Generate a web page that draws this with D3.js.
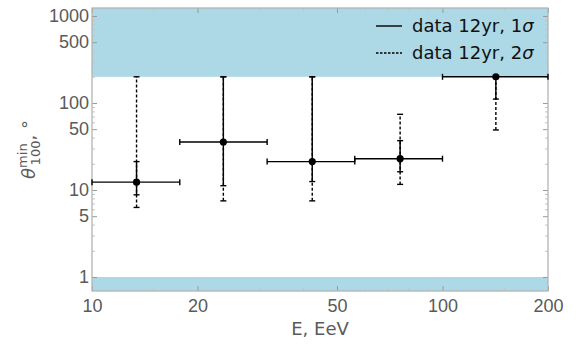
<!DOCTYPE html>
<html>
<head>
<meta charset="utf-8">
<script src="https://cdn.jsdelivr.net/npm/d3@7"></script>
<style>
	body { margin: 0; background: #fff; }
	svg { font-family: "DejaVu Sans", sans-serif; }
	.axis text { fill: #5a5a5a; font-size: 18px; }
	.axis line { stroke: #9a9a9a; }
	.minor line { stroke: #c4c4c4; }
</style>
</head>
<body>
<svg id="graph"></svg>
<script>
// bins in energy (EeV) and the angle limits (degrees)
var energy   = [ 13.4, 23.7, 42.5, 75.7, 142 ];
var e_low    = [ 10, 17.8, 31.6, 56.2, 100 ];
var e_high   = [ 17.8, 31.6, 56.2, 100, 200 ];
var theta    = [ 12.3, 35.6, 21.2, 22.9, 200 ];
var sig1_low = [ 8.8, 11.2, 12.5, 16.2, 111 ];
var sig1_hi  = [ 21.2, 200, 200, 36.9, 200 ];
var sig2_low = [ 6.3, 7.5, 7.5, 11.6, 49 ];
var sig2_hi  = [ 200, 200, 200, 74.1, 200 ];

// excluded regions
var band_top    = [ 200, 1236 ];
var band_bottom = [ 0.69, 1 ];

var x_ticks       = [ 10, 20, 50, 100, 200 ];
var x_minor_ticks = [ 15, 30, 40, 60, 70, 80, 90, 150 ];
var y_ticks       = [ 1, 5, 10, 50, 100, 500, 1000 ];
var y_minor_ticks = [ 2, 3, 4, 6, 7, 8, 9, 20, 30, 40, 60, 70, 80, 90, 200, 300, 400, 600, 700, 800, 900 ];

var legend_labels = [ "1", "2" ];

var margin = { top : 8, right : 31, bottom : 53, left : 92 };
var width  = 579 - margin.left - margin.right;
var height = 344 - margin.top  - margin.bottom;

var svg = d3.select( "#graph" )
		.attr( "width" , 579 )
		.attr( "height", 344 )
	.append( "g" )
		.attr( "transform", "translate(" + margin.left + "," + margin.top + ")" );

var x = d3.scaleLog().domain([ 10, 200 ]).range([ 0, width ]);
var y = d3.scaleLog().domain([ band_bottom[0], band_top[1] ]).range([ height, 0 ]);

// Shaded bands
[ band_top, band_bottom ].forEach(function(b){
	svg.append( "rect" )
		.attr( "x", 0 )
		.attr( "width", width )
		.attr( "y", y( b[1] ) )
		.attr( "height", y( b[0] ) - y( b[1] ) )
		.style( "fill", "#add8e6" );
});

// Axes: labels + inward ticks
var fmt = function(d){ return d; };

svg.append( "g" )
	.attr( "class", "x axis" )
	.attr( "transform", "translate(0," + height + ")" )
	.call( d3.axisBottom( x ).tickValues( x_ticks ).tickFormat( fmt ).tickSize( -5 ).tickPadding( 8 ) );

svg.append( "g" )
	.attr( "class", "x axis minor" )
	.attr( "transform", "translate(0," + height + ")" )
	.call( d3.axisBottom( x ).tickValues( x_minor_ticks ).tickFormat( "" ).tickSize( -3 ) );

svg.append( "g" )
	.attr( "class", "x axis" )
	.call( d3.axisTop( x ).tickValues( x_ticks ).tickFormat( "" ).tickSize( -5 ) );

svg.append( "g" )
	.attr( "class", "x axis minor" )
	.call( d3.axisTop( x ).tickValues( x_minor_ticks ).tickFormat( "" ).tickSize( -3 ) );

svg.append( "g" )
	.attr( "class", "y axis" )
	.call( d3.axisLeft( y ).tickValues( y_ticks ).tickFormat( fmt ).tickSize( -5 ).tickPadding( 3 ) );

svg.append( "g" )
	.attr( "class", "y axis minor" )
	.call( d3.axisLeft( y ).tickValues( y_minor_ticks ).tickFormat( "" ).tickSize( -3 ) );

svg.append( "g" )
	.attr( "class", "y axis" )
	.attr( "transform", "translate(" + width + ",0)" )
	.call( d3.axisRight( y ).tickValues( y_ticks ).tickFormat( "" ).tickSize( -5 ) );

svg.append( "g" )
	.attr( "class", "y axis minor" )
	.attr( "transform", "translate(" + width + ",0)" )
	.call( d3.axisRight( y ).tickValues( y_minor_ticks ).tickFormat( "" ).tickSize( -3 ) );

svg.selectAll( ".domain" ).remove();

// Frame
svg.append( "rect" )
	.attr( "width", width )
	.attr( "height", height )
	.style( "fill", "none" )
	.style( "stroke", "#b4b4b4" )
	.style( "stroke-width", 1.3 );

// Error bars
var points = energy.map(function(e, i){
	return { x : e, x0 : e_low[i], x1 : e_high[i], y : theta[i],
		lo1 : sig1_low[i], hi1 : sig1_hi[i], lo2 : sig2_low[i], hi2 : sig2_hi[i] };
});

var cap = 3;

function vbar( g, d, lo, hi, dash ){
	g.append( "line" )
		.attr( "x1", x( d.x ) ).attr( "x2", x( d.x ) )
		.attr( "y1", y( lo ) ).attr( "y2", y( hi ) )
		.style( "stroke-dasharray", dash );
	[ lo, hi ].forEach(function(v){
		g.append( "line" )
			.attr( "x1", x( d.x ) - cap ).attr( "x2", x( d.x ) + cap )
			.attr( "y1", y( v ) ).attr( "y2", y( v ) );
	});
}

var bars = svg.append( "g" )
	.style( "stroke", "#000" )
	.style( "stroke-width", 1.4 )
	.style( "fill", "none" );

points.forEach(function(d){
	var g = bars.append( "g" );
	vbar( g, d, d.lo2, d.hi2, "3,2" );
	vbar( g, d, d.lo1, d.hi1, null );

	g.append( "line" )
		.attr( "x1", x( d.x0 ) ).attr( "x2", x( d.x1 ) )
		.attr( "y1", y( d.y ) ).attr( "y2", y( d.y ) );
	[ d.x0, d.x1 ].forEach(function(v){
		g.append( "line" )
			.attr( "x1", x( v ) ).attr( "x2", x( v ) )
			.attr( "y1", y( d.y ) - cap ).attr( "y2", y( d.y ) + cap );
	});
});

svg.append( "g" )
	.selectAll( "circle" )
	.data( points )
	.enter()
		.append( "circle" )
		.attr( "cx", function(d){ return x( d.x ); } )
		.attr( "cy", function(d){ return y( d.y ); } )
		.attr( "r", 3.6 )
		.style( "fill", "#000" );

// Legend
var legend = svg.append( "g" )
	.attr( "transform", "translate(" + ( 376 - margin.left ) + "," + ( 26 - margin.top ) + ")" );

legend_labels.forEach(function(s, i){
	var row = legend.append( "g" ).attr( "transform", "translate(0," + ( i * 27 ) + ")" );
	row.append( "line" )
		.attr( "x1", 0 ).attr( "x2", 26 )
		.style( "stroke", "#000" )
		.style( "stroke-width", 1.4 )
		.style( "stroke-dasharray", i ? "2.5,1.5" : null );
	var t = row.append( "text" )
		.attr( "x", 36 )
		.attr( "y", 6 )
		.style( "font-size", "18px" )
		.style( "fill", "#111" );
	t.append( "tspan" ).text( "data 12yr, " + s );
	t.append( "tspan" ).style( "font-style", "italic" ).text( "\u03c3" );
});

// Axis labels
svg.append( "text" )
	.attr( "x", width / 2 )
	.attr( "y", height + 44 )
	.attr( "text-anchor", "middle" )
	.style( "font-size", "18px" )
	.style( "fill", "#5a5a5a" )
	.text( "E, EeV" );

var yl = svg.append( "text" )
	.attr( "transform", "translate(" + ( 35 - margin.left ) + "," + ( height / 2 ) + ") rotate(-90)" )
	.attr( "text-anchor", "middle" )
	.style( "font-size", "18px" )
	.style( "fill", "#5a5a5a" );
yl.append( "tspan" ).style( "font-style", "italic" ).text( "\u03b8" );
yl.append( "tspan" ).attr( "dy", -8 ).style( "font-size", "13px" ).text( "min" );
yl.append( "tspan" ).attr( "dx", -22 ).attr( "dy", 13 ).style( "font-size", "13px" ).text( "100" );
yl.append( "tspan" ).attr( "dy", -5 ).text( ", \u00b0" );
</script>
</body>
</html>
